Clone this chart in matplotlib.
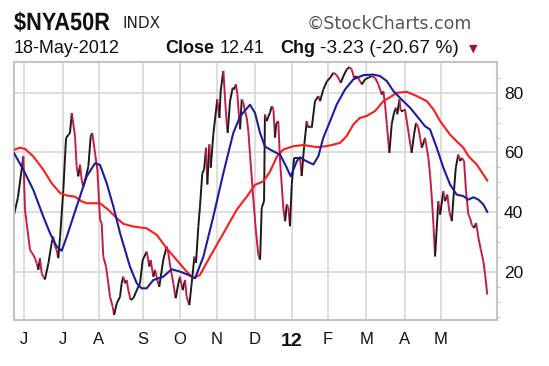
import numpy as np
import matplotlib
matplotlib.use("Agg")
import matplotlib.pyplot as plt
from matplotlib.collections import LineCollection
from matplotlib.textpath import TextPath
from matplotlib.patches import PathPatch
from matplotlib.font_manager import FontProperties
from matplotlib.transforms import Affine2D

plt.rcParams['font.family'] = ['Liberation Sans', 'DejaVu Sans']

# session index (trading days since start of the window) and values
price_t = [0.0, 2.2, 5.2, 6.1, 8.9, 9.8, 10.7, 11.7, 12.6, 13.5, 14.4, 15.4, 16.3, 17.2,
           19.1, 20.9, 21.8, 22.8, 23.7, 24.6, 25.6, 27.4, 28.9, 30.2, 31.1, 32.1,
           33.9, 34.8, 35.7, 36.7, 37.6, 38.5, 40.0, 41.3, 42.6, 43.5,
           45.0, 46.3, 46.8, 47.8, 48.7, 49.6, 51.1, 52.4, 53.3, 54.8, 55.6,
           57.1, 58.9, 59.8, 60.7, 61.7, 62.6, 63.5, 64.8, 66.3, 68.2, 70.0, 71.5, 73.7,
           75.2, 75.9, 77.4, 78.3, 79.6, 80.7, 82.9, 84.8, 85.7, 87.1, 88.5, 89.8,
           91.3, 92.2, 93.7, 95.0, 95.9, 97.4, 98.7, 100.2, 101.1, 102.4, 103.3, 104.6, 105.6,
           106.7, 107.4, 108.5, 109.3, 110.7, 112.2, 112.9, 114.1, 114.8, 116.3,
           117.2, 118.2, 118.7, 120.0, 121.5, 122.2, 123.3, 124.1, 125.2, 125.6, 126.5,
           127.4, 128.3, 129.3, 130.2, 131.1, 132.9, 134.4, 135.7, 136.7,
           137.6, 138.9, 139.4, 140.4, 141.3, 142.2, 143.2, 144.1,
           145.0, 145.6, 146.8, 147.8, 149.6, 150.6, 151.5, 152.4, 153.3,
           154.3, 155.6, 157.1, 158.9, 159.8, 161.1, 162.6, 163.5, 164.4, 165.4,
           167.2, 169.1, 170.0, 171.8, 173.9, 175.6, 177.4, 178.9, 180.2, 181.5, 183.0, 184.8, 186.3,
           187.6, 188.9, 190.4, 192.2, 193.2, 195.0, 196.8, 198.7,
           200.6, 202.4, 204.3, 205.2, 206.1, 207.1, 208.5, 209.8, 211.1, 212.2, 212.9, 214.1,
           214.8, 216.3, 217.2, 218.2, 219.6, 220.9, 222.2, 223.3, 224.6, 225.6, 226.5, 227.8, 228.3,
           230.2, 231.1, 232.1, 233.0, 233.9, 235.7, 236.7, 238.5, 239.4, 240.7, 241.8, 243.2,
           244.1, 245.4, 246.8, 247.8, 248.7, 250.0,
           251.1, 252.4, 253.3, 254.3, 255.6, 256.7, 258.0, 259.3, 260.7, 261.7, 262.9]
price_v = [39.1, 45.0, 58.7, 40.8, 27.4, 26.5, 25.7, 24.5, 22.9, 20.7, 24.6, 19.5, 18.4, 17.5,
           22.9, 29.6, 31.8, 28.5, 27.4, 24.6, 31.8, 47.5, 64.8, 65.9, 66.5, 73.2,
           65.4, 55.3, 52.0, 55.9, 50.8, 48.6, 52.0, 55.3, 65.4, 66.5,
           59.8, 54.2, 48.6, 37.4, 36.3, 25.1, 21.8, 16.2, 11.7, 8.4, 5.6,
           9.5, 11.7, 16.2, 18.4, 16.2, 17.3, 13.9, 10.6, 11.2, 13.9, 16.2, 24.0, 26.8,
           21.8, 24.0, 18.4, 20.7, 17.3, 15.0, 24.0, 28.5, 26.3, 20.7, 16.2, 11.2,
           16.2, 18.4, 13.9, 17.3, 11.7, 8.9, 16.2, 25.1, 23.0, 35.2, 41.9, 53.0, 54.3,
           61.6, 49.3, 62.7, 54.9, 66.0, 73.9, 77.8, 71.6, 80.6, 87.3,
           78.3, 69.4, 66.6, 77.2, 81.7, 81.1, 82.8, 79.4, 70.5, 67.8, 77.8,
           76.6, 73.9, 71.6, 67.0, 59.3, 44.8, 33.6, 25.8, 24.1,
           41.5, 43.7, 72.7, 70.5, 72.1, 73.3, 75.5, 74.4,
           65.0, 69.4, 70.5, 57.1, 41.4, 37.0, 42.6, 41.5, 35.3,
           49.3, 58.2, 58.2, 58.2, 52.1, 61.6, 70.5, 68.3, 68.8, 68.3,
           77.2, 78.9, 77.2, 81.1, 83.9, 85.0, 86.7, 86.1, 85.0, 83.3, 85.6, 87.8, 88.6,
           87.8, 85.0, 85.6, 83.9, 82.8, 84.5, 85.0, 85.6,
           85.0, 82.8, 79.4, 80.5, 76.1, 69.4, 59.9, 69.4, 73.3, 75.0, 72.8, 77.8,
           73.9, 73.9, 74.4, 70.5, 64.9, 59.9, 66.0, 69.9, 68.3, 64.9, 61.6, 63.8, 64.9,
           58.2, 52.6, 44.8, 35.8, 25.2, 43.7, 39.2, 47.0, 43.7, 45.9, 40.3, 37.0,
           44.8, 54.9, 59.3, 57.1, 58.2, 57.1,
           47.0, 39.2, 38.1, 35.8, 34.7, 36.4, 31.4, 27.5, 23.6, 19.1, 12.41]

ma_fast_t = [0.0, 5.2, 10.7, 16.3, 20.0, 23.7, 26.5, 29.3, 34.8, 40.4, 45.0, 47.8, 51.5, 55.2,
             58.9, 64.4, 68.2, 70.9, 73.7, 77.4, 82.9, 87.6, 92.2, 96.8, 100.6, 105.2, 110.7,
             116.3, 121.8, 125.6, 131.1, 133.9, 136.7, 139.4, 142.2, 146.0, 147.8, 151.5, 153.7,
             157.1, 158.9, 161.7, 164.4, 166.3, 169.1, 171.8, 175.6, 179.3, 183.9, 188.5, 194.1,
             199.6, 203.3, 207.1, 210.7, 214.4, 220.0, 224.6, 228.3, 231.1, 234.8, 238.5, 242.2,
             245.9, 249.6, 252.4, 255.2, 258.0, 260.7, 262.9]
ma_fast_v = [59.8, 54.2, 47.5, 38.5, 33.0, 28.5, 27.1, 31.8, 41.9, 52.0, 56.4, 55.8, 49.7, 41.9,
             33.0, 21.8, 16.2, 14.5, 14.5, 17.3, 18.4, 20.9, 20.1, 19.0, 17.9, 25.1, 38.5,
             53.1, 66.5, 72.1, 76.0, 73.2, 66.5, 62.0, 61.0, 59.8, 59.3, 54.9, 52.0,
             57.1, 58.4, 57.3, 56.5, 56.0, 58.8, 64.9, 70.5, 76.1, 81.1, 84.5, 85.9,
             86.1, 85.6, 83.9, 80.6, 78.3, 75.0, 71.6, 68.8, 67.7, 61.6, 54.9, 49.3,
             45.9, 45.4, 44.2, 45.0, 44.2, 42.6, 40.1]

ma_slow_t = [0.0, 3.3, 6.1, 10.7, 16.3, 20.9, 25.6, 29.3, 33.9, 37.6, 40.4, 47.8, 52.4, 57.1,
             60.7, 66.3, 73.7, 79.3, 84.8, 90.4, 95.9, 99.6, 103.3, 108.9, 116.3, 123.7, 129.3,
             133.9, 138.5, 142.2, 146.0, 149.6, 155.2, 160.7, 168.2, 173.7, 181.1, 184.8, 188.5,
             192.2, 195.9, 200.6, 205.2, 208.9, 212.6, 218.2, 223.7, 229.3, 233.0, 236.7, 242.2,
             246.8, 249.6, 252.4, 257.0, 262.9]
ma_slow_v = [60.9, 61.6, 61.2, 58.7, 54.2, 49.7, 46.4, 45.6, 45.2, 43.6, 43.0, 43.0, 40.8, 38.0,
             36.1, 35.2, 34.6, 32.4, 27.9, 24.0, 20.1, 17.9, 19.0, 25.1, 32.9, 40.8, 45.2,
             49.2, 50.3, 53.6, 58.6, 61.0, 62.1, 62.5, 61.8, 62.1, 63.2, 65.5, 69.4,
             71.6, 72.2, 73.9, 77.2, 78.5, 80.0, 80.3, 78.9, 77.2, 74.4, 70.5, 66.0,
             63.2, 61.6, 58.8, 56.0, 50.6]

month_pos = [5.6, 27.2, 47.2, 71.7, 92.2, 112.8, 133.9, 154.4, 174.4, 195.6, 217.2, 237.2]
month_lbl = ["J", "J", "A", "S", "O", "N", "D", "12", "F", "M", "A", "M"]

W, H = 549, 366
fig = plt.figure(figsize=(W / 100, H / 100), dpi=100)
ax = fig.add_axes([14 / W, 1 - 320 / H, 483 / W, 258 / H])

# grid
for p in month_pos:
    ax.axvline(p, color="#d8d8d8", lw=1.2, zorder=0)
for v in [20, 40, 60, 80]:
    ax.axhline(v, color="#d8d8d8", lw=1.2, zorder=0)

ax.plot(ma_slow_t, ma_slow_v, color="#ff1a1a", lw=1.5, zorder=3)
ax.plot(ma_fast_t, ma_fast_v, color="#1c1ca0", lw=1.5, zorder=4)

# price line: black when rising, crimson when falling
pts = np.column_stack([price_t, price_v])
segs = np.stack([pts[:-1], pts[1:]], axis=1)
cols = ["#1a1a1a" if b >= a else "#c71b45" for a, b in zip(price_v[:-1], price_v[1:])]
ax.add_collection(LineCollection(segs, colors=cols, linewidths=1.4, zorder=2))

ax.set_xlim(0, 268.3)
ax.set_ylim(3.9, 90.3)

ax.yaxis.tick_right()
ax.set_yticks([20, 40, 60, 80])
ax.set_yticks(np.arange(5, 90, 5), minor=True)
ax.tick_params(axis="y", which="major", length=0, labelsize=12.5, pad=5, colors="#111111")
ax.tick_params(axis="y", which="minor", length=2, color="#bbbbbb")
ax.set_xticks(month_pos)
ax.set_xticklabels(month_lbl)
ax.tick_params(axis="x", length=0, labelsize=12, pad=9, colors="#111111")
for lab in ax.get_xticklabels():
    if lab.get_text() == "12":
        lab.set_fontweight("bold")
        lab.set_fontsize(14)

for s in ax.spines.values():
    s.set_color("#c4c4c4")
    s.set_linewidth(1.5)

# header: narrow bold ticker drawn as a horizontally squeezed text path
tp = TextPath((0, 0), "$NYA50R", size=25,
              prop=FontProperties(family="Liberation Sans", weight="bold"))
tr = Affine2D().scale(0.87, 1.0).translate(14, H - 30)
fig.patches.append(PathPatch(tr.transform_path(tp), facecolor="#111111", edgecolor="none",
                             transform=None, figure=fig))
fig.text(122 / W, 1 - 28 / H, "INDX", fontsize=11, color="#222222", family="DejaVu Sans")
fig.text(472 / W, 1 - 29 / H, "\u00a9StockCharts.com", fontsize=12.5, color="#555555",
         ha="right", family="DejaVu Sans")
fig.text(14 / W, 1 - 53 / H, "18-May-2012", fontsize=13, color="#111111")
fig.text(165 / W, 1 - 53 / H, "Close", fontsize=13, fontweight="bold", color="#111111")
fig.text(220 / W, 1 - 53 / H, "12.41", fontsize=13, color="#111111")
fig.text(280 / W, 1 - 53 / H, "Chg", fontsize=13, fontweight="bold", color="#111111")
fig.text(320 / W, 1 - 53 / H, "-3.23 (-20.67 %)", fontsize=13.8, color="#111111")
fig.text(469 / W, 1 - 52 / H, "\u25bc", fontsize=8, color="#a3122e", family="DejaVu Sans")

fig.savefig("out.png", dpi=100)
